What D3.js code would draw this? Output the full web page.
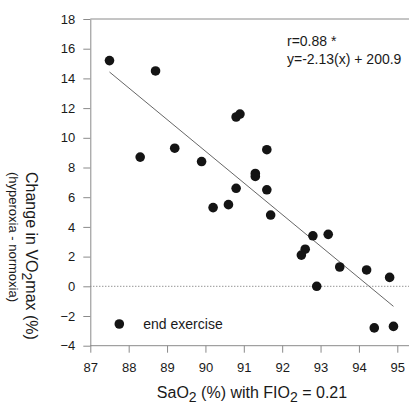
<!DOCTYPE html>
<html><head><meta charset="utf-8">
<script src="https://cdn.jsdelivr.net/npm/d3@7"></script>
<style>
body{margin:0;background:#fff}
svg{display:block}
text{font-family:"Liberation Sans",Arial,Helvetica,sans-serif;fill:#1a1a1a}
</style>
</head><body>
<script>
// SaO2 (%) with FIO2 = 0.21
const saO2 = [87.5, 88.7, 90.8, 90.9, 88.3, 89.2, 89.9, 91.6, 91.3, 91.3, 90.8, 91.6, 90.2, 90.6, 91.7, 92.8, 93.2, 92.6, 92.5, 93.5, 94.2, 94.8, 92.9, 94.4, 94.9];
// Change in VO2max (%)
const dVO2 = [15.2, 14.5, 11.4, 11.6, 8.7, 9.3, 8.4, 9.2, 7.6, 7.4, 6.6, 6.5, 5.3, 5.5, 4.8, 3.4, 3.5, 2.5, 2.1, 1.3, 1.1, 0.6, 0.0, -2.8, -2.7];
const xTicks = [87, 88, 89, 90, 91, 92, 93, 94, 95];
const yTicks = [-4, -2, 0, 2, 4, 6, 8, 10, 12, 14, 16, 18];
const fitX = [87.5, 94.9];
const fitY = [14.43, -1.35];
const annotation = ["r=0.88 *", "y=-2.13(x) + 200.9"];
const legendLabel = "end exercise";

const W = 409, H = 405;
const svg = d3.select("body").append("svg").attr("width", W).attr("height", H);

const x = d3.scaleLinear().domain([87, 95]).range([90.3, 397.3]);
const y = d3.scaleLinear().domain([-4, 18]).range([345.7, 19]);
const axisColor = "#8a8a8a";

// frame lines
svg.append("line").attr("x1", x(87)).attr("x2", W).attr("y1", y(18)).attr("y2", y(18))
  .attr("stroke", axisColor).attr("stroke-width", 1);
svg.append("line").attr("x1", x(87)).attr("x2", W).attr("y1", y(-4)).attr("y2", y(-4))
  .attr("stroke", axisColor).attr("stroke-width", 1);

// zero dotted line
svg.append("line").attr("x1", x(87)).attr("x2", W).attr("y1", y(0)).attr("y2", y(0))
  .attr("stroke", "#666").attr("stroke-width", 1).attr("stroke-dasharray", "1,2");

// axes
const gx = svg.append("g").attr("transform", `translate(0,${y(-4)})`)
  .call(d3.axisBottom(x).tickValues(xTicks).tickFormat(d3.format("d")).tickSize(7).tickSizeOuter(0).tickPadding(10));
const gy = svg.append("g").attr("transform", `translate(${x(87)},0)`)
  .call(d3.axisLeft(y).tickValues(yTicks).tickFormat(d3.format("d")).tickSize(7).tickSizeOuter(0).tickPadding(8));
[gx, gy].forEach(g => {
  g.select(".domain").attr("stroke", axisColor);
  g.selectAll(".tick line").attr("stroke", axisColor);
  g.selectAll(".tick text").attr("font-size", 13).attr("fill", "#1a1a1a")
    .attr("font-family", '"Liberation Sans",Arial,sans-serif');
});
gx.select(".domain").remove();

// regression line
svg.append("line")
  .attr("x1", x(fitX[0])).attr("y1", y(fitY[0]))
  .attr("x2", x(fitX[1])).attr("y2", y(fitY[1]))
  .attr("stroke", "#555").attr("stroke-width", 0.9);

// points
svg.append("g").selectAll("circle").data(saO2.map((v, i) => [v, dVO2[i]])).join("circle")
  .attr("cx", d => x(d[0])).attr("cy", d => y(d[1])).attr("r", 4.8).attr("fill", "#141414");

// annotation
annotation.forEach((t, i) => {
  svg.append("text").attr("x", 287).attr("y", 46 + i * 18).attr("font-size", 14).text(t);
});

// legend
svg.append("circle").attr("cx", 119.3).attr("cy", 324).attr("r", 4.8).attr("fill", "#141414");
svg.append("text").attr("x", 143.3).attr("y", 328.8).attr("font-size", 14).text(legendLabel);

// x axis label
const xl = svg.append("text").attr("x", 252).attr("y", 398).attr("text-anchor", "middle").attr("font-size", 16);
xl.append("tspan").text("SaO");
xl.append("tspan").attr("font-size", 14).attr("dy", 4).text("2");
xl.append("tspan").attr("dy", -4).text(" (%) with FIO");
xl.append("tspan").attr("font-size", 14).attr("dy", 4).text("2");
xl.append("tspan").attr("dy", -4).text(" = 0.21");

// y axis label (rotated, reading top to bottom)
const yl = svg.append("text").attr("transform", "translate(26,172) rotate(90)").attr("font-size", 16);
yl.append("tspan").text("Change in VO");
yl.append("tspan").attr("font-size", 14).attr("dy", 4).text("2");
yl.append("tspan").attr("dy", -4).text("max (%)");
svg.append("text").attr("transform", "translate(9,172) rotate(90)").attr("font-size", 13)
  .text("(hyperoxia - normoxia)");
</script>
</body></html>
